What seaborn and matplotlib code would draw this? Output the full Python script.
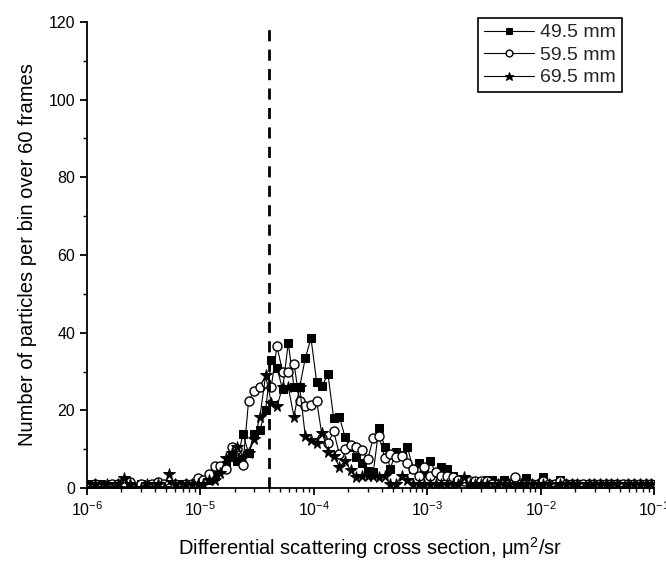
import numpy as np
import pandas as pd
import matplotlib
matplotlib.use("Agg")
import matplotlib.pyplot as plt
from matplotlib.ticker import LogLocator, MultipleLocator
import seaborn as sns

# histogram bins: 20 per decade from 1e-6 to 1e-1 (bin centres)
bins_per_decade = 20
bin_centres = 10 ** (-6 + (np.arange(100) + 0.5) / bins_per_decade)

# counts
counts_495 = [1, 1, 1, 0, 1, 1, 0, 1, 0, 1,
              0, 1, 1, 0, 1, 1, 1, 1, 1, 2,
              2, 2, 3, 5, 6, 8, 7, 14, 9, 14,
              15, 20, 33, 31, 25.4, 37.4, 26, 26, 33.4, 38.6,
              27.4, 26.3, 29.4, 18, 18.4, 13.2, 10.6, 8, 6.4, 4.5,
              4.2, 15.5, 10.6, 5, 9.4, 8.5, 10.6, 5, 6.4, 4,
              7, 4, 5.5, 5, 3, 2, 2, 1, 1, 1,
              2, 2, 1, 2, 1, 1, 1, 2.5, 1, 1,
              2.8, 1, 1, 2, 1, 1, 1, 1, 1, 1,
              1, 1, 1, 1, 1, 1, 1, 1, 1, 1]
counts_595 = [0, 1, 0, 0, 1, 1, 1.5, 1.5, 0, 1,
              0, 1, 1.5, 1, 0, 1, 0, 1, 1, 2.5,
              2, 3.7, 5.8, 5.8, 5, 10.6, 10, 6, 22.5, 25,
              26, 27, 26, 36.5, 30, 30, 32, 22.5, 21, 21.5,
              22.5, 13, 11.5, 14.7, 8.7, 10, 11, 10.6, 9.7, 7.4,
              12.9, 13.4, 7.8, 8.7, 8, 8.3, 6.4, 5, 3.2, 5.5,
              3, 4.1, 3.2, 3, 2.8, 2, 1.8, 1.8, 1.8, 1.8,
              1.8, 1, 1, 1, 1, 2.8, 1, 1, 1, 1,
              1.8, 1, 1, 1.8, 1, 1, 1, 1, 1, 1,
              1, 1, 1, 1, 1, 1, 1, 1, 1, 1]
counts_695 = [0, 1, 0, 1, 0, 1, 2.5, 1, 0, 0,
              1, 0, 1, 0, 3.5, 1, 0, 1, 1, 1,
              1, 2, 2, 4, 7.8, 9, 10.6, 8, 9, 12.6,
              18.4, 29, 22, 21, 26, 26, 18.4, 26, 13.4, 12.4,
              11.5, 14.3, 9.2, 8.3, 5.5, 6.9, 4.6, 2.8, 3, 3.2,
              3, 2.8, 3, 1, 1, 3.2, 2, 1, 1, 1,
              1, 1, 1, 1, 1, 1, 2.8, 1, 1, 1,
              1, 0, 1, 1, 1, 0, 1, 1, 1, 1,
              1, 1, 0, 1, 1, 1, 1, 0, 1, 1,
              1, 1, 1, 1, 0, 1, 1, 1, 1, 1]
labels = ["49.5 mm", "59.5 mm", "69.5 mm"]
cutoff = 4e-5

sns.set_style("ticks")
plt.rcParams["font.family"] = ["Liberation Sans", "DejaVu Sans"]
plt.rcParams["mathtext.fontset"] = "custom"
plt.rcParams["mathtext.rm"] = "Liberation Sans"
plt.rcParams["mathtext.it"] = "Liberation Sans:italic"

fig = plt.figure(figsize=(6.66, 5.61), dpi=100)
ax = fig.add_axes([0.1306, 0.130, 0.8514, 0.831])

df = pd.DataFrame({"x": bin_centres, "a": counts_495, "b": counts_595, "c": counts_695})

sns.lineplot(data=df, x="x", y="a", ax=ax, color="black", linewidth=0.8,
             marker="s", markersize=6, markeredgecolor="black", label=labels[0])
sns.lineplot(data=df, x="x", y="b", ax=ax, color="black", linewidth=0.8,
             marker="o", markersize=6.5, markerfacecolor="white",
             markeredgecolor="black", markeredgewidth=1, label=labels[1])
sns.lineplot(data=df, x="x", y="c", ax=ax, color="black", linewidth=0.8,
             marker="*", markersize=8.5, markeredgecolor="black", label=labels[2])

ax.vlines(cutoff, 0, 118.5, colors="black", linestyles=(0, (4, 3)), linewidth=2)

ax.set_xscale("log")
ax.set_xlim(1e-6, 1e-1)
ax.set_ylim(0, 120)
ax.yaxis.set_major_locator(MultipleLocator(20))
ax.yaxis.set_minor_locator(MultipleLocator(10))
ax.xaxis.set_major_locator(LogLocator(base=10, numticks=10))
ax.xaxis.set_minor_locator(LogLocator(base=10, subs=np.arange(2, 10), numticks=20))

sns.despine(ax=ax)
for s in ["left", "bottom"]:
    ax.spines[s].set_linewidth(1.3)
    ax.spines[s].set_color("black")
ax.tick_params(axis="both", which="major", direction="out", length=5, width=1.3,
               color="black", labelsize=11.5, labelcolor="black")
ax.tick_params(axis="both", which="minor", direction="out", length=3, width=1,
               color="black")

ax.set_xlabel("Differential scattering cross section, μm$^2$/sr", fontsize=14.5,
              labelpad=12, color="black")
ax.set_ylabel("Number of particles per bin over 60 frames", fontsize=14.5,
              labelpad=8, color="black")

leg = ax.legend(loc="upper right", bbox_to_anchor=(622 / 666, 1 - 18 / 561),
                bbox_transform=fig.transFigure, borderaxespad=0, frameon=True,
                fancybox=False, framealpha=1, edgecolor="black", fontsize=14,
                handlelength=2.6, handletextpad=0.3, borderpad=0.3,
                labelspacing=0.25, markerscale=0.75)
leg.get_frame().set_linewidth(1.2)

fig.savefig("out.png", dpi=100)
